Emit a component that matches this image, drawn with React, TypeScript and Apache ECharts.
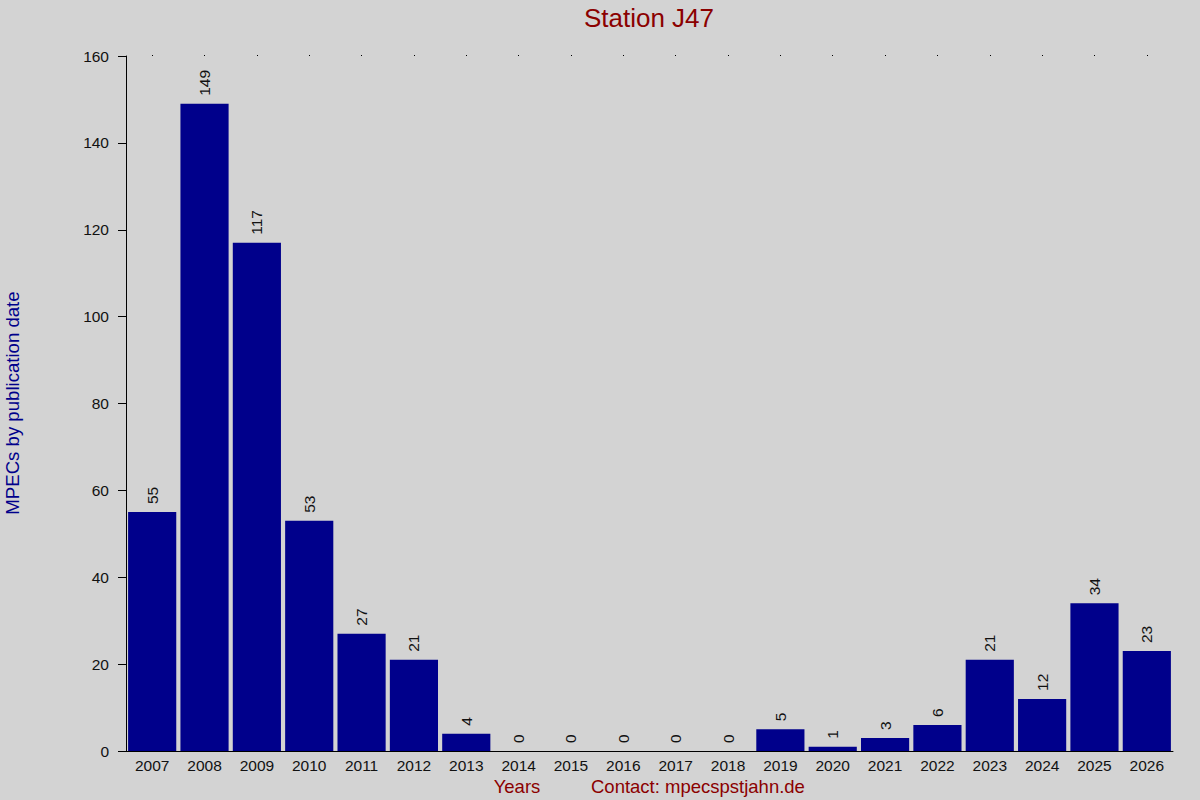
import { useEffect, useRef } from 'react'
import * as echarts from 'echarts'

const years = ['2007', '2008', '2009', '2010', '2011', '2012', '2013', '2014', '2015', '2016',
  '2017', '2018', '2019', '2020', '2021', '2022', '2023', '2024', '2025', '2026']
const mpecs = [55, 149, 117, 53, 27, 21, 4, 0, 0, 0, 0, 0, 5, 1, 3, 6, 21, 12, 34, 23]

const FONT = '"Liberation Sans", Arial, sans-serif'

export default function App() {
  const chartRef = useRef<HTMLDivElement>(null)

  useEffect(() => {
    if (!chartRef.current) return
    document.body.style.margin = '0'
    document.body.style.overflow = 'hidden'
    const chart = echarts.init(chartRef.current, null, { renderer: 'svg' })

    chart.setOption({
      animation: false,
      backgroundColor: '#d3d3d3',
      textStyle: { fontFamily: FONT },
      title: {
        text: 'Station J47',
        left: 644,
        top: 0,
        textAlign: 'center',
        textStyle: { color: '#8b0000', fontSize: 26, fontWeight: 'normal', fontFamily: FONT }
      },
      grid: { left: 126, right: 27, top: 56, bottom: 49, containLabel: false },
      xAxis: [
        {
          type: 'category',
          data: years,
          axisLine: { lineStyle: { color: '#000', width: 1 } },
          axisTick: { show: false },
          axisLabel: { color: '#111', fontSize: 15.5, margin: 6, fontFamily: FONT }
        },
        {
          type: 'category',
          data: years,
          position: 'top',
          axisLine: { show: false },
          axisTick: { show: true, length: 1, alignWithLabel: true, lineStyle: { color: '#000' } },
          axisLabel: { show: false }
        }
      ],
      yAxis: {
        type: 'value',
        min: 0,
        max: 160,
        interval: 20,
        splitLine: { show: false },
        axisLine: { show: true, lineStyle: { color: '#000', width: 1 } },
        axisTick: { show: true, length: 8, lineStyle: { color: '#000' } },
        axisLabel: { color: '#111', fontSize: 15.5, margin: 17, fontFamily: FONT }
      },
      series: [
        {
          type: 'bar',
          data: mpecs,
          barCategoryGap: '8%',
          itemStyle: { color: '#00008b' },
          label: {
            show: true,
            position: 'top',
            rotate: 90,
            align: 'left',
            verticalAlign: 'middle',
            distance: 8,
            color: '#111',
            fontSize: 15.5,
            fontFamily: FONT
          }
        }
      ],
      graphic: [
        {
          type: 'text',
          x: 12,
          y: 403,
          rotation: Math.PI / 2,
          style: {
            text: 'MPECs by publication date',
            fill: '#00008b',
            font: '18.6px ' + FONT,
            align: 'center',
            verticalAlign: 'middle'
          }
        },
        {
          type: 'text',
          x: 517,
          y: 786,
          style: {
            text: 'Years',
            fill: '#8b0000',
            font: '18.5px ' + FONT,
            align: 'center',
            verticalAlign: 'middle'
          }
        },
        {
          type: 'text',
          x: 591,
          y: 786,
          style: {
            text: 'Contact: mpecspstjahn.de',
            fill: '#8b0000',
            font: '18.5px ' + FONT,
            align: 'left',
            verticalAlign: 'middle'
          }
        }
      ]
    })

    return () => {
      chart.dispose()
    }
  }, [])

  return <div ref={chartRef} style={{ width: 1200, height: 800 }} />
}
